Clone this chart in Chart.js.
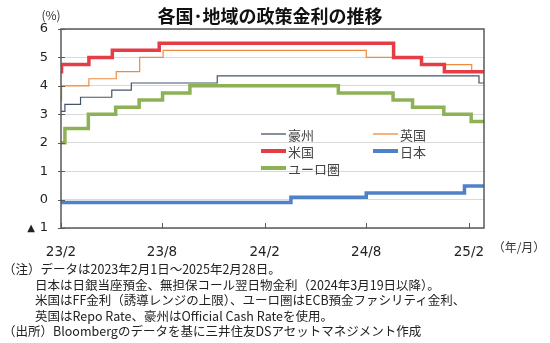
<!DOCTYPE html>
<html>
<head>
<meta charset="utf-8">
<script src="https://cdn.jsdelivr.net/npm/chart.js@4.4.0/dist/chart.umd.min.js"></script>
<style>
	body { margin: 0; background: #fff; }
	#wrap { position: relative; width: 550px; height: 343px; }
	#notes { position: absolute; left: 3px; top: 261px; font: 12.5px "Noto Sans CJK JP", sans-serif; line-height: 15.6px; color: #222; white-space: nowrap; }
	#notes .in { padding-left: 32px; }
</style>
</head>
<body>
<div id="wrap">
	<canvas id="rates" width="550" height="343"></canvas>
	<div id="notes">
		<div>（注）データは2023年2月1日～2025年2月28日。</div>
		<div class="in">日本は日銀当座預金、無担保コール翌日物金利（2024年3月19日以降）。</div>
		<div class="in">米国はFF金利（誘導レンジの上限）、ユーロ圏はECB預金ファシリティ金利、</div>
		<div class="in">英国はRepo Rate、豪州はOfficial Cash Rateを使用。</div>
		<div>（出所）Bloombergのデータを基に三井住友DSアセットマネジメント作成</div>
	</div>
</div>
<script>
'use strict';

// policy rates (date of change, new level)
var au_dates = ["2023-02-01","2023-02-08","2023-03-08","2023-05-03","2023-06-07","2023-11-08","2025-02-19","2025-02-28"];
var au_rates = [3.10, 3.35, 3.60, 3.85, 4.10, 4.35, 4.10, 4.10];

var uk_dates = ["2023-02-01","2023-02-02","2023-03-23","2023-05-11","2023-06-22","2023-08-03","2024-08-01","2024-11-07","2025-02-06","2025-02-28"];
var uk_rates = [3.50, 4.00, 4.25, 4.50, 5.00, 5.25, 5.00, 4.75, 4.50, 4.50];

var us_dates = ["2023-02-01","2023-02-02","2023-03-23","2023-05-04","2023-07-27","2024-09-19","2024-11-08","2024-12-19","2025-02-28"];
var us_rates = [4.50, 4.75, 5.00, 5.25, 5.50, 5.00, 4.75, 4.50, 4.50];

var jp_dates = ["2023-02-01","2024-03-19","2024-08-01","2025-01-24","2025-02-28"];
var jp_rates = [-0.10, 0.08, 0.23, 0.48, 0.48];

var eu_dates = ["2023-02-01","2023-02-08","2023-03-22","2023-05-10","2023-06-21","2023-08-02","2023-09-20","2024-06-12","2024-09-18","2024-10-23","2024-12-18","2025-02-05","2025-02-28"];
var eu_rates = [2.00, 2.50, 3.00, 3.25, 3.50, 3.75, 4.00, 3.75, 3.50, 3.25, 3.00, 2.75, 2.75];

var x_tick_dates = ["2023-02-01","2023-08-01","2024-02-01","2024-08-01","2025-02-01"];
var x_tick_labels = ["23/2","23/8","24/2","24/8","25/2"];
var y_ticks = [-1, 0, 1, 2, 3, 4, 5, 6];

(function(){

	var start = Date.UTC(2023, 1, 1);
	var end = Date.UTC(2025, 1, 28);
	var day_of = function(s){
		var p = s.split("-");
		return (Date.UTC(+p[0], +p[1] - 1, +p[2]) - start) / 86400000;
	};
	var points = function(dates, rates){
		return dates.map(function(d, i){ return { x: day_of(d), y: rates[i] }; });
	};

	var font_num = "DejaVu Sans, sans-serif";
	var font_jp = "'Noto Sans CJK JP', sans-serif";

	// legend entries, in the order of the reference
	var legend_items = [
		{ label: "豪州", color: "#44546a", width: 1.3, col: 0, row: 0 },
		{ label: "英国", color: "#ed8b3f", width: 1.3, col: 1, row: 0 },
		{ label: "米国", color: "#e63c46", width: 4, col: 0, row: 1 },
		{ label: "日本", color: "#4f81c7", width: 4, col: 1, row: 1 },
		{ label: "ユーロ圏", color: "#8db255", width: 4, col: 0, row: 2 }
	];

	// title, frame, inner tick marks and legend
	var decor = {
		id: "decor",
		afterDatasetsDraw: function(chart){
			var ctx = chart.ctx, a = chart.chartArea;
			var xs = chart.scales.x, ys = chart.scales.y;
			ctx.save();
			ctx.strokeStyle = "#595959";
			ctx.lineWidth = 1.5;
			ctx.strokeRect(a.left, a.top, a.right - a.left, a.bottom - a.top);
			ctx.beginPath();
			x_tick_dates.forEach(function(d){
				var px = Math.round(xs.getPixelForValue(day_of(d))) + 0.5;
				ctx.moveTo(px, a.bottom);
				ctx.lineTo(px, a.bottom - 5);
			});
			y_ticks.forEach(function(v){
				var py = Math.round(ys.getPixelForValue(v)) + 0.5;
				ctx.moveTo(a.left - 3, py);
				ctx.lineTo(a.left + 4, py);
			});
			ctx.lineWidth = 1;
			ctx.stroke();

			// negative tick label written with a triangle, as in the source
			ctx.fillStyle = "#222";
			ctx.textBaseline = "middle";
			ctx.textAlign = "right";
			ctx.font = "13px " + font_num;
			var yneg = ys.getPixelForValue(y_ticks[0]);
			ctx.fillText(String(Math.abs(y_ticks[0])), a.left - 13, yneg);
			ctx.font = "10px " + font_num;
			ctx.fillText("▲", a.left - 26, yneg);

			// legend
			ctx.textAlign = "left";
			ctx.font = "13px " + font_jp;
			ctx.fillStyle = "#444";
			legend_items.forEach(function(it){
				var lx = 261 + it.col * 112;
				var ly = 134 + it.row * 17;
				ctx.beginPath();
				ctx.strokeStyle = it.color;
				ctx.lineWidth = it.width;
				ctx.moveTo(lx, ly);
				ctx.lineTo(lx + 25, ly);
				ctx.stroke();
				ctx.fillText(it.label, lx + 27, ly + 1);
			});
			ctx.restore();
		},
		afterDraw: function(chart){
			var ctx = chart.ctx;
			ctx.save();
			ctx.fillStyle = "#111";
			ctx.textAlign = "center";
			ctx.textBaseline = "middle";
			ctx.font = "bold 18px " + font_jp;
			ctx.fillText("各国･地域の政策金利の推移", 270, 16);
			ctx.fillStyle = "#333";
			ctx.font = "12px " + font_jp;
			ctx.fillText("(%)", 51, 15);
			ctx.fillText("（年/月）", 519, 247);
			ctx.restore();
		}
	};

	var line = function(label, data, color, width){
		return {
			label: label,
			data: data,
			borderColor: color,
			backgroundColor: color,
			borderWidth: width,
			stepped: "before",
			pointRadius: 0,
			fill: false
		};
	};

	var ctx = document.getElementById("rates").getContext("2d");
	new Chart(ctx, {
		type: "line",
		data: {
			// first dataset is drawn on top
			datasets: [
				line("日本", points(jp_dates, jp_rates), "#4f81c7", 3.5),
				line("米国", points(us_dates, us_rates), "#e63c46", 3.5),
				line("ユーロ圏", points(eu_dates, eu_rates), "#8db255", 3.5),
				line("英国", points(uk_dates, uk_rates), "#ed8b3f", 1.2),
				line("豪州", points(au_dates, au_rates), "#44546a", 1.2)
			]
		},
		options: {
			responsive: false,
			animation: false,
			layout: { padding: { top: 29, right: 66, bottom: 85, left: 0 } },
			plugins: {
				legend: { display: false },
				tooltip: { enabled: false }
			},
			scales: {
				x: {
					type: "linear",
					min: 0,
					max: (end - start) / 86400000,
					afterBuildTicks: function(scale){
						scale.ticks = x_tick_dates.map(function(d){ return { value: day_of(d) }; });
					},
					afterFit: function(scale){ scale.height = 30; },
					grid: { display: false },
					border: { display: false },
					ticks: {
						autoSkip: false,
						maxRotation: 0,
						padding: 8,
						color: "#222",
						font: { family: font_num, size: 13.5 },
						callback: function(v){
							var i = x_tick_dates.map(day_of).indexOf(v);
							return i >= 0 ? x_tick_labels[i] : "";
						}
					}
				},
				y: {
					min: -1,
					max: 6,
					afterBuildTicks: function(scale){
						scale.ticks = y_ticks.map(function(v){ return { value: v }; });
					},
					afterFit: function(scale){ scale.width = 61; },
					grid: { color: "#d9d9d9", lineWidth: 1, drawTicks: false },
					border: { display: false },
					ticks: {
						autoSkip: false,
						padding: 13,
						color: "#222",
						font: { family: font_num, size: 13 },
						callback: function(v){ return v < 0 ? "" : v; }
					}
				}
			}
		},
		plugins: [decor]
	});

})();
</script>
</body>
</html>
